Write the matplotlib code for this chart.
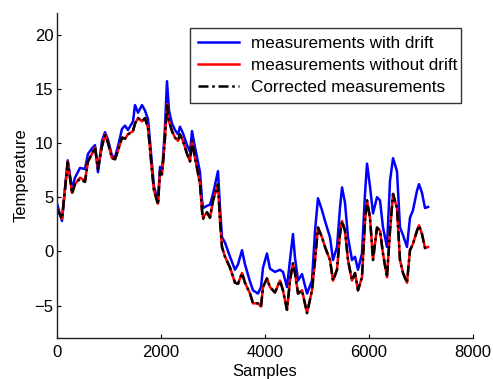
import matplotlib
matplotlib.use("Agg")
import matplotlib.pyplot as plt

plt.rcParams['font.family'] = ['Liberation Sans', 'DejaVu Sans']

samples = [0, 96, 206, 250, 288, 346, 442, 538, 596, 673, 731, 788, 865, 923, 981,
           1058, 1115, 1173, 1250, 1308, 1365, 1462, 1500, 1558, 1635, 1692, 1750,
           1788, 1827, 1865, 1904, 1942, 1981, 2019, 2038, 2077, 2115, 2154, 2211,
           2269, 2327, 2365, 2423, 2500, 2558, 2596, 2654, 2692, 2750, 2788, 2808,
           2885, 2942, 3000, 3096, 3135, 3173, 3231, 3327, 3423, 3481, 3558, 3615,
           3712, 3769, 3865, 3923, 3962, 4038, 4096, 4192, 4288, 4346, 4423, 4481,
           4538, 4577, 4635, 4712, 4808, 4904, 4962, 5019, 5096, 5154, 5250, 5308,
           5385, 5442, 5481, 5538, 5596, 5673, 5731, 5788, 5865, 5923, 5962, 6019,
           6077, 6154, 6212, 6269, 6346, 6404, 6462, 6538, 6596, 6654, 6731, 6788,
           6846, 6923, 6962, 7019, 7077, 7135]

without_drift = [4.0, 3.0, 8.3, 6.8, 5.4, 6.2, 6.8, 6.5, 8.3, 9.0, 9.6, 7.7, 9.7, 10.8, 10.0,
                 8.6, 8.5, 9.3, 10.5, 10.4, 10.8, 11.1, 11.8, 12.3, 12.0, 12.3, 11.4,
                 9.5, 7.4, 5.6, 5.0, 4.4, 7.4, 7.1, 8.1, 10.5, 13.6, 12.0, 11.1,
                 10.5, 10.2, 10.8, 10.2, 9.0, 8.3, 10.2, 8.6, 7.7, 6.2, 3.8, 3.1,
                 3.6, 3.1, 4.7, 6.2, 2.8, 0.4, -0.5, -1.5, -2.9, -3.0, -2.0, -2.9,
                 -3.9, -4.8, -4.8, -5.1, -3.3, -2.5, -3.3, -3.8, -2.7, -3.6, -5.4, -2.7,
                 -1.1, -2.0, -3.9, -3.6, -5.7, -3.6, -0.8, 2.2, 1.3, 0.4, -0.8, -2.7,
                 -1.7, 1.6, 2.8, 1.9, -0.8, -2.7, -2.0, -3.6, -2.4, 2.8, 4.7, 3.1,
                 -0.8, 2.2, 1.9, -0.2, -2.4, 1.9, 5.3, 4.0, -0.8, -2.0, -2.9, 0.1,
                 0.7, 1.9, 2.4, 1.6, 0.3, 0.4]

with_drift = [4.4, 2.8, 8.4, 7.0, 5.8, 6.8, 7.7, 7.6, 9.0, 9.5, 9.8, 7.3, 10.2, 11.0, 10.3,
              8.8, 8.7, 9.7, 11.3, 11.6, 11.2, 12.0, 13.5, 12.8, 13.5, 13.0, 12.2,
              10.2, 8.0, 6.0, 5.3, 4.6, 7.8, 7.6, 8.6, 11.5, 15.7, 13.0, 11.8,
              11.2, 10.8, 11.5, 10.9, 9.8, 9.2, 11.1, 9.6, 8.7, 7.3, 4.8, 4.0,
              4.2, 4.3, 5.3, 7.4, 4.0, 1.3, 0.8, -0.5, -1.7, -1.2, 0.1, -1.2,
              -2.8, -3.6, -3.9, -3.3, -1.5, -0.2, -1.6, -1.9, -1.7, -1.9, -3.3, -0.8,
              1.6, -0.6, -2.7, -2.1, -3.9, -2.7, 1.9, 4.9, 3.8, 2.8, 1.3, -0.8,
              0.4, 4.0, 5.9, 4.5, 1.3, -0.8, -0.5, -1.7, -0.2, 5.3, 8.1, 6.0,
              3.5, 5.0, 4.7, 2.2, 0.4, 6.5, 8.6, 7.4, 2.2, 1.5, 0.4, 3.1,
              3.8, 5.6, 6.2, 5.4, 4.0, 4.1]

corrected = [3.9, 3.0, 8.2, 6.8, 5.3, 6.2, 6.7, 6.4, 8.3, 9.0, 9.6, 7.6, 9.7, 10.7, 10.0,
             8.6, 8.5, 9.3, 10.5, 10.4, 10.8, 11.1, 11.8, 12.3, 12.0, 12.3, 11.4,
             9.5, 7.4, 5.6, 5.0, 4.3, 7.4, 7.1, 8.1, 10.5, 13.6, 12.0, 11.1,
             10.5, 10.2, 10.8, 10.2, 9.0, 8.3, 10.2, 8.6, 7.7, 6.2, 3.8, 3.0,
             3.6, 3.1, 4.7, 6.2, 2.8, 0.4, -0.5, -1.5, -2.9, -3.0, -2.0, -2.9,
             -3.9, -4.8, -4.8, -5.1, -3.3, -2.5, -3.3, -3.8, -2.7, -3.6, -5.4, -2.7,
             -1.1, -2.0, -3.9, -3.6, -5.7, -3.6, -0.8, 2.2, 1.3, 0.4, -0.8, -2.7,
             -1.7, 1.6, 2.8, 1.9, -0.8, -2.7, -2.0, -3.6, -2.4, 2.8, 4.7, 3.1,
             -0.8, 2.2, 1.9, -0.2, -2.4, 1.9, 5.3, 4.0, -0.8, -2.0, -2.9, 0.1,
             0.7, 1.9, 2.4, 1.6, 0.3, 0.4]

labels = ["measurements with drift", "measurements without drift", "Corrected measurements"]
xticks = [0, 2000, 4000, 6000, 8000]
yticks = [-5, 0, 5, 10, 15, 20]

fig = plt.figure(figsize=(4.93, 3.79), dpi=100)
ax = fig.add_axes([57/493, 1 - 338/379, 416/493, 325/379])

ax.plot(samples, with_drift, color='#0000ff', lw=1.8, label=labels[0])
ax.plot(samples, without_drift, color='#ff0000', lw=1.8, label=labels[1])
ax.plot(samples, corrected, color='black', lw=1.8, ls='-.', dashes=(4, 1.5, 1, 1.5), label=labels[2])

ax.set_xlim(0, 8000)
ax.set_ylim(-8, 22)
ax.set_xticks(xticks)
ax.set_yticks(yticks)
ax.tick_params(direction='in', length=3, width=0.8, labelsize=12, colors='black')
ax.tick_params(axis='y', pad=2.5)
ax.tick_params(axis='x', pad=5)
for s in ['top', 'right']:
    ax.spines[s].set_visible(False)
for s in ['left', 'bottom']:
    ax.spines[s].set_linewidth(1.0)
    ax.spines[s].set_color('#222222')

ax.set_xlabel('Samples', fontsize=12, labelpad=3)
ax.set_ylabel('Temperature', fontsize=12, labelpad=4)

leg = ax.legend(loc='upper left', bbox_to_anchor=(0.32, 0.732, 0.651, 0.222),
                mode='expand', fontsize=12.3, frameon=True, fancybox=False,
                borderaxespad=0, handlelength=2.4, handletextpad=0.7,
                labelspacing=0.42, borderpad=0.45)
leg.get_frame().set_edgecolor('black')
leg.get_frame().set_linewidth(1.0)

fig.savefig('out.png', dpi=100)
